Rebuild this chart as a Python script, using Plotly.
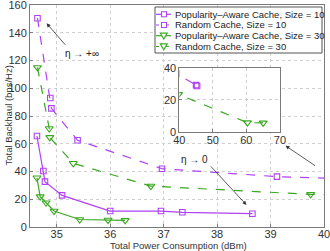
import plotly.graph_objects as go

# ---- data ----
pa10_x = [34.63, 34.75, 34.78, 35.10, 36.00, 36.95, 37.35, 38.66]
pa10_y = [65.6, 40.4, 32.7, 22.8, 11.5, 11.5, 10.6, 9.6]

rc10_x = [34.64, 34.88, 34.90, 35.39, 36.97, 39.12, 45.0, 45.3]
rc10_y = [150.5, 93.0, 85.5, 62.5, 42.0, 36.3, 29.2, 28.7]

pa30_x = [34.63, 34.69, 34.80, 34.95, 35.43, 35.96, 36.28]
pa30_y = [35.5, 21.9, 17.5, 11.5, 5.4, 5.0, 4.8]

rc30_x = [34.64, 34.86, 34.87, 35.31, 36.76, 39.75, 60.3, 65.0]
rc30_y = [115.0, 71.0, 64.6, 45.9, 29.5, 23.5, 6.0, 5.8]

names = ["Popularity\u2013Aware Cache, Size = 10", "Random Cache, Size = 10",
         "Popularity\u2013Aware Cache, Size = 30", "Random Cache, Size = 30"]

x_ticks = [35, 36, 37, 38, 39, 40]
y_ticks = [0, 20, 40, 60, 80, 100, 120, 140, 160]
inset_x_ticks = [40, 50, 60, 70]
inset_y_ticks = [0, 20, 40]

PURPLE = "#b042f5"
GREEN = "#3aa820"
FONT = "Liberation Sans, Arial, sans-serif"

# plot-area geometry in pixels (for paper-coordinate conversion)
W, H = 330, 251
ML, MR, MT, MB = 30, 6, 5, 24
PW, PH = W - ML - MR, H - MT - MB


def px(xp):
    return (xp - ML) / PW


def py(yp):
    return (MT + PH - yp) / PH


fig = go.Figure()

series = [
    (pa10_x, pa10_y, names[0], PURPLE, "solid", "square-open", 5.5),
    (rc10_x, rc10_y, names[1], PURPLE, "dash", "square-open", 5.5),
    (pa30_x, pa30_y, names[2], GREEN, "solid", "triangle-down-open", 7),
    (rc30_x, rc30_y, names[3], GREEN, "dash", "triangle-down-open", 7),
]
for xs, ys, nm, col, dash, sym, ms in series:
    fig.add_trace(go.Scatter(
        x=xs, y=ys, name=nm, mode="lines+markers", showlegend=False,
        line=dict(color=col, width=1.2, dash=dash),
        marker=dict(symbol=sym, size=ms, color=col, line=dict(width=1.1, color=col)),
        xaxis="x", yaxis="y"))

# inset: same random-cache series zoomed to 40..70
for xs, ys, nm, col, dash, sym, ms in series:
    if dash != "dash":
        continue
    fig.add_trace(go.Scatter(
        x=xs, y=ys, name=nm, mode="lines+markers", showlegend=False,
        line=dict(color=col, width=1.2, dash=dash),
        marker=dict(symbol=sym, size=ms, color=col, line=dict(width=1.1, color=col)),
        xaxis="x2", yaxis="y2"))

axis_common = dict(
    showline=True, linecolor="#7a7a7a", linewidth=1, mirror=True,
    ticks="inside", ticklen=3, tickcolor="#7a7a7a",
    showgrid=True, gridcolor="#cfcfcf", griddash="dot", gridwidth=1,
    zeroline=False, automargin=False, ticklabeloverflow="allow",
    tickfont=dict(family=FONT, size=11, color="#333333"),
)

fig.update_layout(
    width=W, height=H,
    margin=dict(l=ML, r=MR, t=MT, b=MB, autoexpand=False),
    paper_bgcolor="white", plot_bgcolor="white",
    font=dict(family=FONT, color="#333333"),
    showlegend=False,
    xaxis=dict(range=[34.5, 40], tickvals=x_ticks, domain=[0, 1],
               ticklabelstandoff=-3, **axis_common),
    yaxis=dict(range=[0, 160], tickvals=y_ticks, domain=[0, 1], **axis_common),
    xaxis2=dict(range=[40, 70], tickvals=inset_x_ticks, domain=[0.508, 0.850],
                anchor="y2", ticklabelstandoff=-2, **axis_common),
    yaxis2=dict(range=[0, 40], tickvals=inset_y_ticks, domain=[0.4266, 0.7176],
                anchor="x2", **axis_common),
)

# axis titles
fig.add_annotation(x=px(178), y=py(245.5), xref="paper", yref="paper",
                   xanchor="center", yanchor="middle",
                   text="Total Power Consumption (dBm)", showarrow=False,
                   font=dict(family=FONT, size=9.5, color="#333333"))
fig.add_annotation(x=px(7.5), y=0.5, xref="paper", yref="paper", textangle=-90,
                   xanchor="center", yanchor="middle",
                   text="Total Backhaul (bps/Hz)", showarrow=False,
                   font=dict(family=FONT, size=9.5, color="#333333"))

# white background under the inset (drawn in the inset subplot's lower layer)
fig.add_shape(type="rect", xref="x2", yref="y2", x0=40, x1=70, y0=0, y1=40,
              fillcolor="white", line=dict(width=0), layer="below")

# ---- compact legend box (MATLAB style) ----
fig.add_shape(type="rect", xref="paper", yref="paper",
              x0=px(155), x1=px(322), y0=py(53), y1=py(7),
              fillcolor="white", line=dict(color="#555555", width=1), layer="above")
rows_py = [14.3, 25.0, 35.7, 46.5]
for (xs, ys, nm, col, dash, sym, ms), ry in zip(series, rows_py):
    yy = py(ry)
    fig.add_shape(type="line", xref="paper", yref="paper",
                  x0=px(156), x1=px(171), y0=yy, y1=yy,
                  line=dict(color=col, width=1.2, dash="solid" if dash == "solid" else "3px,2px"),
                  layer="above")
    if sym.startswith("square"):
        fig.add_shape(type="rect", xref="paper", yref="paper",
                      x0=px(161.5), x1=px(166.5), y0=py(ry + 2.5), y1=py(ry - 2.5),
                      fillcolor="white", line=dict(color=col, width=1.1), layer="above")
    else:
        path = "M {} {} L {} {} L {} {} Z".format(
            px(160.3), py(ry - 2.6), px(167.3), py(ry - 2.6), px(163.8), py(ry + 3.4))
        fig.add_shape(type="path", xref="paper", yref="paper", path=path,
                      fillcolor="white", line=dict(color=col, width=1.1), layer="above")
    fig.add_annotation(x=px(172.5), y=yy, xref="paper", yref="paper", text=nm,
                       xanchor="left", yanchor="middle", showarrow=False,
                       font=dict(family=FONT, size=9.5, color="#222222"))

# annotations with arrows
fig.add_annotation(x=34.81, y=146.8, xref="x", yref="y", ax=20, ay=23, text="",
                   showarrow=True, arrowhead=2, arrowsize=1, arrowwidth=0.8, arrowcolor="#333333")
fig.add_annotation(x=35.47, y=125.4, xref="x", yref="y", text="\u03b7 \u2192 +\u221e",
                   xanchor="center", yanchor="middle",
                   showarrow=False, font=dict(family=FONT, size=10, color="#222222"))
fig.add_annotation(x=38.55, y=15.9, xref="x", yref="y", ax=-37, ay=-40, text="",
                   showarrow=True, arrowhead=2, arrowsize=1, arrowwidth=0.8, arrowcolor="#333333")
fig.add_annotation(x=37.57, y=49.0, xref="x", yref="y", text="\u03b7 \u2192 0",
                   xanchor="center", yanchor="middle",
                   showarrow=False, font=dict(family=FONT, size=10, color="#222222"))
fig.add_annotation(x=39.28, y=58.6, xref="x", yref="y", ax=31, ay=21, text="",
                   showarrow=True, arrowhead=2, arrowsize=1, arrowwidth=0.8, arrowcolor="#333333")

fig.write_html(
    "out.html",
    config={"displayModeBar": False, "staticPlot": True},
    post_script="document.body.style.margin='0';document.body.style.overflow='hidden';",
)
